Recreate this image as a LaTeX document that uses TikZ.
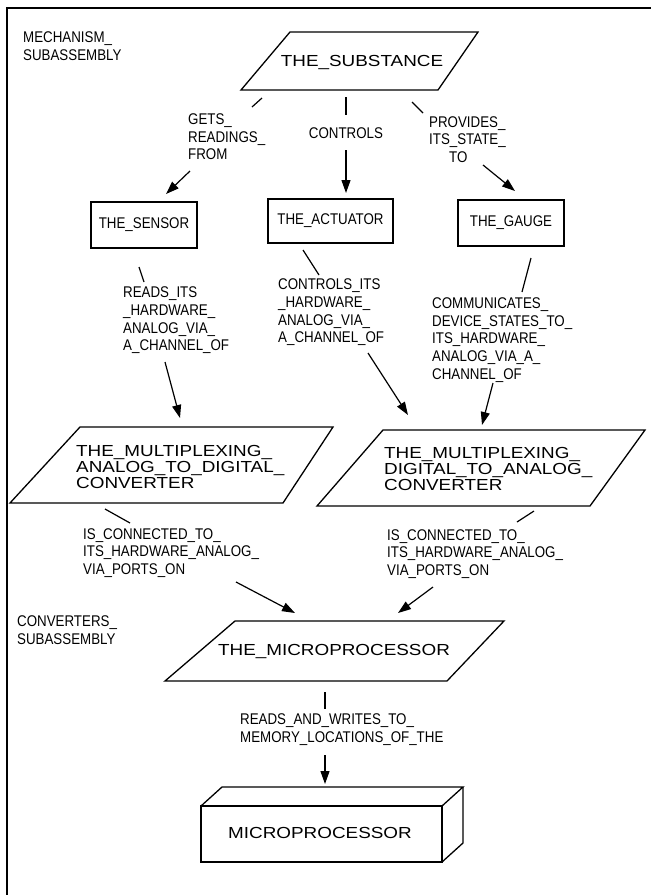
\documentclass[tikz,border=0pt]{standalone}
\usepackage{fontspec}
\setmainfont{Liberation Sans}
\newfontfamily\narrowfont{Liberation Sans}[FakeStretch=0.86]
\newfontfamily\broadfont{Liberation Sans}[FakeStretch=1.18]
\usetikzlibrary{arrows.meta}

\tikzset{
  lbl/.style={font=\narrowfont\fontsize{15.5}{17.6}\selectfont, align=left, inner sep=0pt, anchor=west},
  clbl/.style={font=\narrowfont\fontsize{15.5}{17.6}\selectfont, inner sep=0pt},
  wide/.style={font=\broadfont\fontsize{16}{15.6}\selectfont, align=left, inner sep=0pt},
  objbox/.style={draw, line width=1.3pt, inner sep=0pt,
                 font=\narrowfont\fontsize{15.5}{17.6}\selectfont},
  outline/.style={line width=1.3pt, line join=miter},
  link/.style={line width=1.2pt},
  arr/.style={link, -{Triangle[length=13pt,width=9pt]}}
}

\begin{document}
\begin{tikzpicture}[x=1pt,y=-1pt]
\useasboundingbox (0,0) rectangle (651,895);

% frame edges
\draw[line width=1.1pt] (651,8) -- (7,8) -- (7,895);

% group captions
\node[lbl] (mech) at (23,46) {MECHANISM\_\\SUBASSEMBLY};
\node[lbl] (conv) at (17,630) {CONVERTERS\_\\SUBASSEMBLY};

% the substance
\draw[outline] (290,32) -- (478,32) -- (438,90) -- (241,90) -- cycle;
\node[wide] (subst) at (362,62) {THE\_SUBSTANCE};

% mechanism parts
\node[objbox, minimum width=106pt, minimum height=46pt] (sensor) at (144,225) {THE\_SENSOR};
\node[objbox, minimum width=125pt, minimum height=44pt] (actuator) at (330.5,221) {THE\_ACTUATOR};
\node[objbox, minimum width=106pt, minimum height=46pt] (gauge) at (511,223) {THE\_GAUGE};

% converters
\draw[outline] (80,427) -- (333,427) -- (283,503) -- (10,503) -- cycle;
\node[wide, anchor=west] (adc) at (76,467) {THE\_MULTIPLEXING\_\\ANALOG\_TO\_DIGITAL\_\\CONVERTER};
\draw[outline] (383,430) -- (645,430) -- (590,506) -- (317,506) -- cycle;
\node[wide, anchor=west] (dac) at (384,469) {THE\_MULTIPLEXING\_\\DIGITAL\_TO\_ANALOG\_\\CONVERTER};

% microprocessor
\draw[outline] (235,621) -- (504,621) -- (447,681) -- (165,681) -- cycle;
\node[wide] (mp) at (334,651) {THE\_MICROPROCESSOR};

% hardware block
\draw[outline] (201,806) rectangle (442,862);
\draw[outline] (201,806) -- (222,787) -- (463,787) -- (442,806);
\draw[outline] (463,787) -- (463,843) -- (442,862);
\node[wide] (hw) at (320,833) {MICROPROCESSOR};

% relation labels
\node[lbl] (gets) at (188,137) {GETS\_\\READINGS\_\\FROM};
\node[clbl] (ctrl) at (346,133) {CONTROLS};
\node[lbl] (prov) at (429,139.5) {PROVIDES\_\\ITS\_STATE\_\\\hspace*{20pt}TO};
\node[lbl] (reads) at (123,320.5) {READS\_ITS\\\_HARDWARE\_\\ANALOG\_VIA\_\\A\_CHANNEL\_OF};
\node[lbl] (ctrlits) at (278,312.5) {CONTROLS\_ITS\\\_HARDWARE\_\\ANALOG\_VIA\_\\A\_CHANNEL\_OF};
\node[lbl] (comm) at (432,340) {COMMUNICATES\_\\DEVICE\_STATES\_TO\_\\ITS\_HARDWARE\_\\ANALOG\_VIA\_A\_\\CHANNEL\_OF};
\node[lbl] (connl) at (83,553) {IS\_CONNECTED\_TO\_\\ITS\_HARDWARE\_ANALOG\_\\VIA\_PORTS\_ON};
\node[lbl] (connr) at (387,554) {IS\_CONNECTED\_TO\_\\ITS\_HARDWARE\_ANALOG\_\\VIA\_PORTS\_ON};
\node[lbl] (rw) at (240,729.5) {READS\_AND\_WRITES\_TO\_\\MEMORY\_LOCATIONS\_OF\_THE};

% connector end points
\coordinate (g1) at (262,98);  \coordinate (g2) at (252,107);
\coordinate (g3) at (190,171); \coordinate (g4) at (166,194);
\coordinate (c1) at (346,97);  \coordinate (c2) at (346,115);
\coordinate (c3) at (346,150); \coordinate (c4) at (346,193);
\coordinate (p1) at (412,102); \coordinate (p2) at (423,113);
\coordinate (p3) at (483,165); \coordinate (p4) at (515,191);
\coordinate (r1) at (139,267); \coordinate (r2) at (144,282);
\coordinate (r3) at (165,362); \coordinate (r4) at (180,418);
\coordinate (a1) at (303,250); \coordinate (a2) at (319,275);
\coordinate (a3) at (368,353); \coordinate (a4) at (408,415);
\coordinate (m1) at (531,258); \coordinate (m2) at (522,292);
\coordinate (m3) at (493,383); \coordinate (m4) at (482,425);
\coordinate (l1) at (105,509); \coordinate (l2) at (130,523);
\coordinate (l3) at (236,582); \coordinate (l4) at (295,613);
\coordinate (k1) at (534,511); \coordinate (k2) at (517,522);
\coordinate (k3) at (433,587); \coordinate (k4) at (398,613);
\coordinate (w1) at (325,692); \coordinate (w2) at (325,709);
\coordinate (w3) at (325,755); \coordinate (w4) at (325,784);

% connectors, each broken by its label
\foreach \s in {g,c,p,r,a,m,l,k,w}{
  \draw[link] (\s1) -- (\s2);
  \draw[arr] (\s3) -- (\s4);
}
\end{tikzpicture}
\end{document}
